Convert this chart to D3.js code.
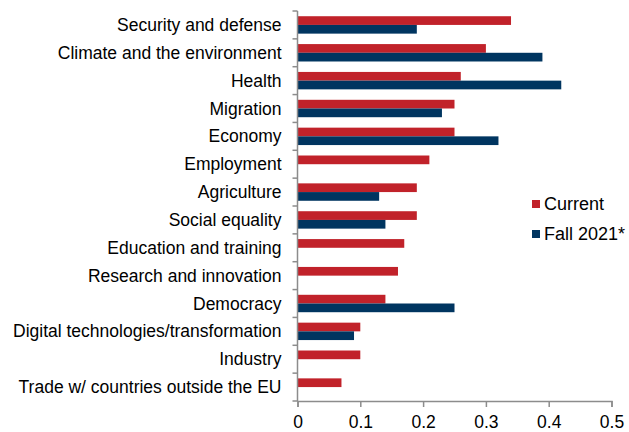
<!DOCTYPE html>
<html>
<head>
<meta charset="utf-8">
<script src="https://cdn.jsdelivr.net/npm/d3@7"></script>
<style>
    body { margin: 0; background: #fff; }
    svg text { font-family: "Liberation Sans", Arial, sans-serif; fill: #000; }
</style>
</head>
<body>
<div id="chart"></div>
<script>
const categories = [
    'Security and defense',
    'Climate and the environment',
    'Health',
    'Migration',
    'Economy',
    'Employment',
    'Agriculture',
    'Social equality',
    'Education and training',
    'Research and innovation',
    'Democracy',
    'Digital technologies/transformation',
    'Industry',
    'Trade w/ countries outside the EU'
];
const seriesNames = ['Current', 'Fall 2021*'];
const currentValues = [0.34, 0.30, 0.26, 0.25, 0.25, 0.21, 0.19, 0.19, 0.17, 0.16, 0.14, 0.10, 0.10, 0.07];
const fallValues = [0.19, 0.39, 0.42, 0.23, 0.32, null, 0.13, 0.14, null, null, 0.25, 0.09, null, null];
const xTicks = [0, 0.1, 0.2, 0.3, 0.4, 0.5];
const colors = ['#c1222a', '#003560'];

const width = 629, height = 432;
const margin = { top: 11, right: 17.5, bottom: 31, left: 297.5 };
const innerW = width - margin.left - margin.right;
const innerH = height - margin.top - margin.bottom;

const svg = d3.select('#chart')
    .append('svg')
    .attr('width', width)
    .attr('height', height);

const g = svg.append('g')
    .attr('transform', `translate(${margin.left},${margin.top})`);

const x = d3.scaleLinear().domain([0, 0.5]).range([0, innerW]);
const y = d3.scaleBand().domain(categories).range([0, innerH]).paddingInner(0).paddingOuter(0);
const ySub = d3.scaleBand().domain(seriesNames).range([0, y.bandwidth()]).paddingInner(0).paddingOuter(0.6);

const rows = categories.map((c, i) => ({ category: c, values: [currentValues[i], fallValues[i]] }));

// bars
const groups = g.selectAll('.cat')
    .data(rows)
    .join('g')
    .attr('class', 'cat')
    .attr('transform', d => `translate(0,${y(d.category)})`);

groups.selectAll('rect')
    .data(d => seriesNames.map((s, i) => ({ series: s, value: d.values[i], idx: i })).filter(e => e.value != null))
    .join('rect')
    .attr('x', 0)
    .attr('y', d => ySub(d.series))
    .attr('width', d => x(d.value))
    .attr('height', ySub.bandwidth())
    .attr('fill', d => colors[d.idx]);

// y axis: line plus ticks at band boundaries
const axisColor = '#8c8c8c';
g.append('line')
    .attr('x1', 0).attr('x2', 0)
    .attr('y1', 0).attr('y2', innerH)
    .attr('stroke', axisColor).attr('stroke-width', 1.5);

const boundaries = categories.map(c => y(c)).concat([innerH]);
g.selectAll('.ytick')
    .data(boundaries)
    .join('line')
    .attr('class', 'ytick')
    .attr('x1', -5).attr('x2', 0)
    .attr('y1', d => d).attr('y2', d => d)
    .attr('stroke', axisColor).attr('stroke-width', 1.5);

g.selectAll('.ylabel')
    .data(categories)
    .join('text')
    .attr('class', 'ylabel')
    .attr('x', -16)
    .attr('y', d => y(d) + y.bandwidth() / 2)
    .attr('dy', '0.35em')
    .attr('text-anchor', 'end')
    .attr('font-size', 17.5)
    .text(d => d);

// x axis
const xAxis = g.append('g')
    .attr('transform', `translate(0,${innerH})`)
    .call(d3.axisBottom(x).tickValues(xTicks).tickSize(6).tickPadding(9)
        .tickFormat(d => d === 0 ? '0' : d3.format('.1f')(d)));
xAxis.select('.domain').attr('stroke', axisColor).attr('stroke-width', 1.5);
xAxis.selectAll('.tick line').attr('stroke', axisColor).attr('stroke-width', 1.5);
xAxis.selectAll('.tick text').attr('font-size', 17.5).attr('fill', '#000')
    .style('font-family', '"Liberation Sans", Arial, sans-serif');

// legend
const legend = svg.append('g')
    .attr('transform', 'translate(532,200)');

const items = legend.selectAll('g')
    .data(seriesNames)
    .join('g')
    .attr('transform', (d, i) => `translate(0,${i * 30})`);

items.append('rect')
    .attr('width', 8).attr('height', 8)
    .attr('fill', (d, i) => colors[i]);

items.append('text')
    .attr('x', 12)
    .attr('y', 4)
    .attr('dy', '0.35em')
    .attr('font-size', 18)
    .text(d => d);
</script>
</body>
</html>
